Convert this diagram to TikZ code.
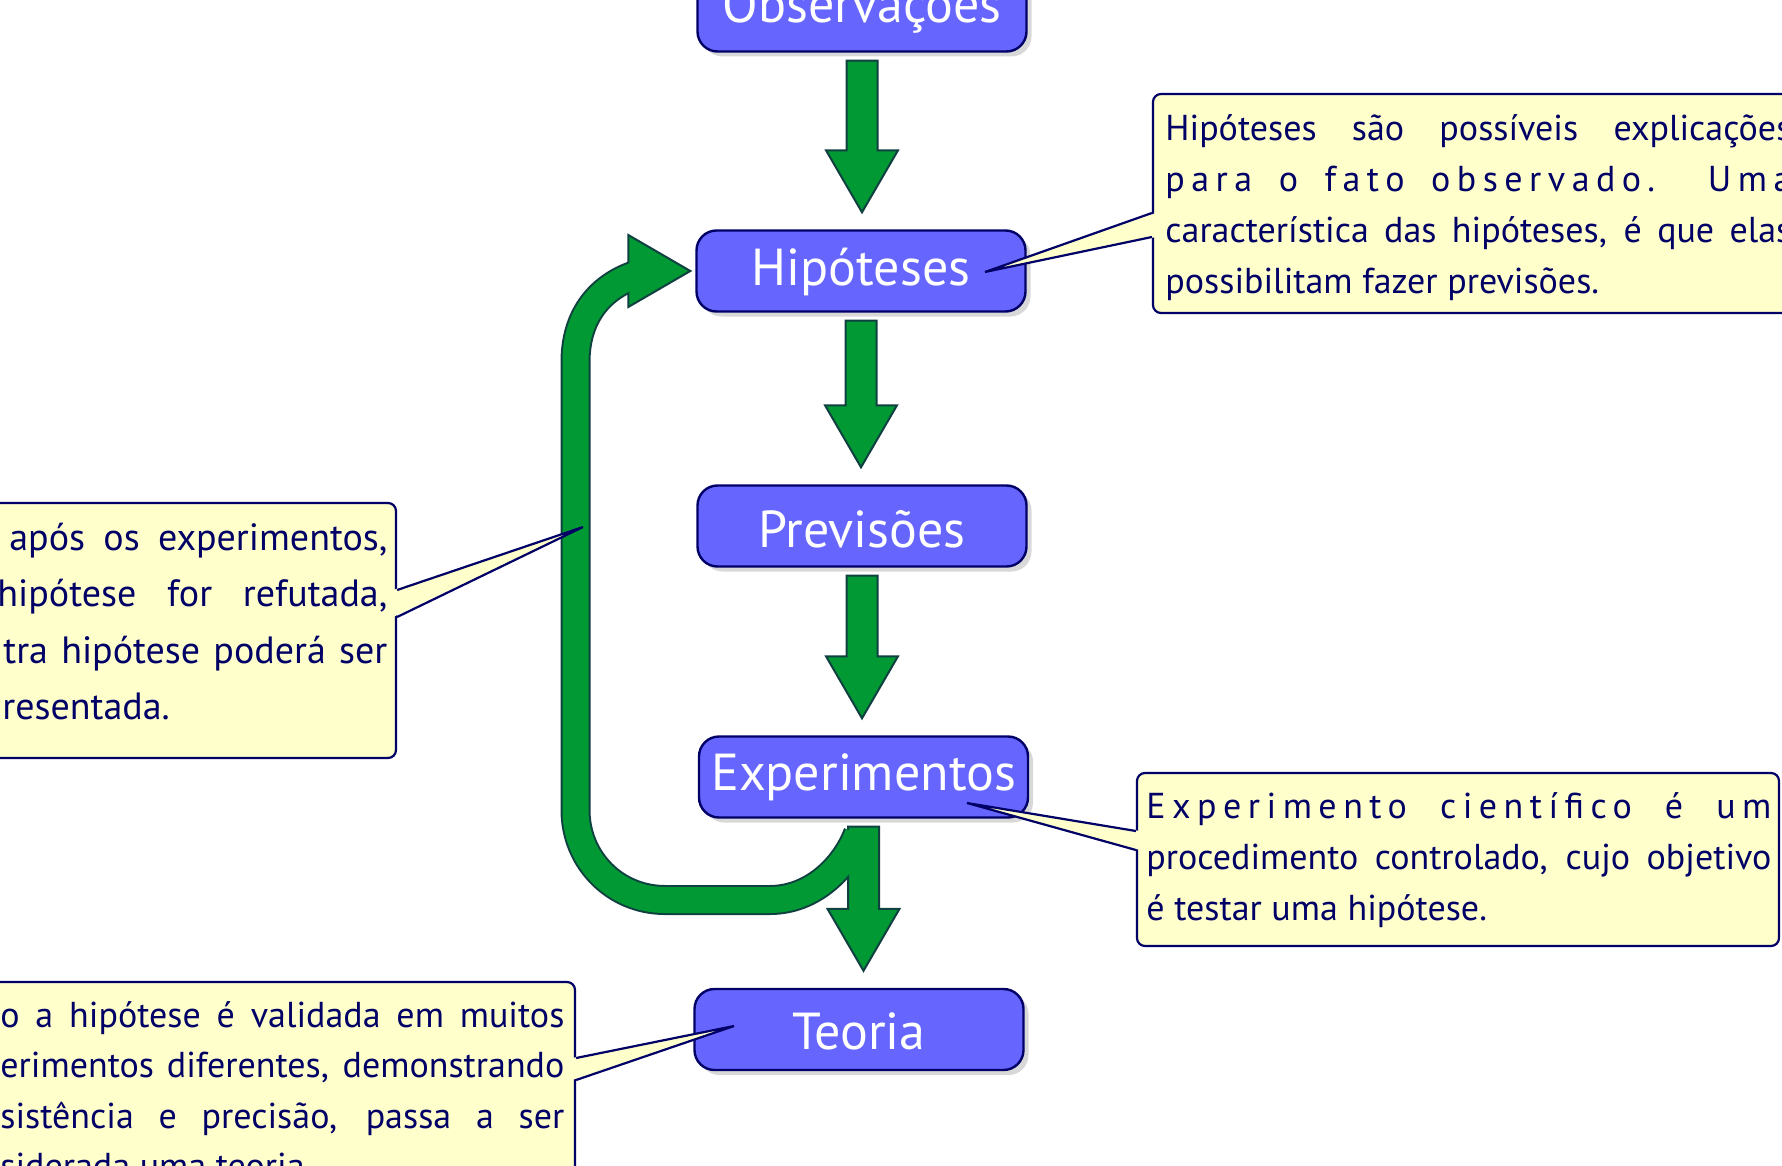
\documentclass[tikz,border=0pt]{standalone}
\usepackage{fontspec}
\newfontfamily\callfont{PT Sans}
\newfontfamily\nodefont{PT Sans}
\usetikzlibrary{calc,shadows}
\definecolor{nodefill}{RGB}{102,102,255}
\definecolor{navy}{RGB}{0,0,102}
\definecolor{callfill}{RGB}{255,255,204}
\definecolor{agreen}{RGB}{0,153,51}
\definecolor{aline}{RGB}{16,64,64}
\tikzset{
 stage/.style={rectangle, rounded corners=10pt, fill=nodefill, draw=navy, line width=1.2pt,
   minimum width=164.5pt, minimum height=40.5pt, text=white, inner sep=0pt,
   font=\nodefont\fontsize{26}{30}\selectfont, text height=18pt, text depth=6pt,
   drop shadow={shadow xshift=2.5pt, shadow yshift=-2.5pt, opacity=0.3}},
 callbox/.style={rectangle, rounded corners=4pt, fill=callfill, draw=navy, line width=1.1pt, inner sep=0pt},
 calltext/.style={inner sep=0pt, text=navy, anchor=base west, font=\callfont\fontsize{18}{25.5}\selectfont},
 fat/.style={fill=agreen, draw=aline, line width=1pt, line join=miter},
 pointerline/.style={draw=navy, line width=1.1pt, line join=miter},
}
\newcommand\fatarrow[2]{%
 \draw[fat] ($(#1.south)+(-15.5,8)$) -- ($(#1.south |- #2.north)+(-15.5,-79)$)
   -- ($(#1.south |- #2.north)+(-36,-79)$) -- ($(#1.south |- #2.north)+(0,-17)$)
   -- ($(#1.south |- #2.north)+(36,-79)$) -- ($(#1.south |- #2.north)+(15.5,-79)$)
   -- ($(#1.south)+(15.5,8)$) -- cycle;}
\begin{document}
\begin{tikzpicture}[x=0.5pt,y=-0.5pt]
\useasboundingbox (0,0) rectangle (1782,1166);
\fill[white] (0,0) rectangle (1782,1166);
\clip (0,0) rectangle (1782,1166);

% stage nodes
\node[stage] (obs) at (862,11) {Observações};
\node[stage, text height=20.2pt] (hip) at (861,271) {Hipóteses};
\node[stage, text height=27pt] (prev) at (862,526) {Previsões};
\node[stage, text height=19.1pt] (exp) at (863.5,777) {Experimentos};
\node[stage, text height=26pt] (teo) at (859,1029.5) {Teoria};

% straight arrows
\fatarrow{obs}{hip}
\fatarrow{hip}{prev}
\fatarrow{prev}{exp}

% loop arrow (experiments back to hypotheses)
\coordinate (ls) at ($(exp.south)+(-5.5,15)$);
\coordinate (le) at ($(hip.west)+(-60,4)$);
\def\loopband{(ls) .. controls (845,868) and (812,900) .. (770,900) -- (665,900)
  .. controls (615,900) and (575.5,860) .. (575.5,810) -- (575.5,362)
  .. controls (575.5,318) and (598,288) .. (le)}
\draw[aline, line width=15pt] \loopband;
\fatarrow{exp}{teo}
\draw[fat] ($(hip.west)+(-67,-36)$) -- ($(hip.west)+(-5,0)$) -- ($(hip.west)+(-67,36)$) -- cycle;
\draw[agreen, line width=13pt] \loopband;

% callout boxes
\node[callbox, minimum width=328.5pt, minimum height=109.5pt] (c1) at (1481.5,203.5) {};
\node[callbox, minimum width=208pt, minimum height=127.5pt] (c2) at (188,630.5) {};
\node[callbox, minimum width=321pt, minimum height=86.5pt] (c3) at (1458,859.5) {};
\node[callbox, minimum width=297.5pt, minimum height=109pt] (c4) at (277.5,1091) {};

% callout texts
\node[calltext] (c1t) at (1165,140.5) {\parbox[t]{313pt}{%
\makebox[313pt][s]{Hipóteses são possíveis explicações}\\
\makebox[313pt][s]{\addfontfeatures{LetterSpace=18}para o fato observado. Uma}\\
\makebox[313pt][s]{característica das hipóteses, é que elas}\\
possibilitam fazer previsões.}};

\node[calltext, font=\callfont\fontsize{19}{28.25}\selectfont] (c2t) at (0,550) {\parbox[t]{200pt}{%
\hspace*{4.5pt}\makebox[189pt][s]{após os experimentos,}\\
\hspace*{-1.5pt}\makebox[195pt][s]{hipótese for refutada,}\\
\hspace*{1.5pt}\makebox[192pt][s]{tra hipótese poderá ser}\\
\hspace*{1pt}resentada.}};

\node[calltext] (c3t) at (1146,818.5) {\parbox[t]{312.5pt}{%
\makebox[312.5pt][s]{\addfontfeatures{LetterSpace=18}Experimento científico é um}\\
\makebox[312.5pt][s]{procedimento controlado, cujo objetivo}\\
é testar uma hipótese.}};

\node[calltext, font=\callfont\fontsize{18}{25.3}\selectfont] (c4t) at (0,1027) {\parbox[t]{282pt}{%
\makebox[282pt][s]{o a hipótese é validada em muitos}\\
\makebox[282pt][s]{erimentos diferentes, demonstrando}\\
\makebox[282pt][s]{sistência e precisão, passa a ser}\\
siderada uma teoria.}};

% pointer tips
\coordinate (t1) at (985,272);
\coordinate (t2) at (583,527);
\coordinate (t3) at (967,803);
\coordinate (t4) at (734,1026);

% pointers
\fill[callfill] ($(c1.west)+(4,9.5)$) -- (t1) -- ($(c1.west)+(4,33.5)$) -- cycle;
\draw[pointerline] ($(c1.west)+(0,9.5)$) -- (t1) -- ($(c1.west)+(0,33.5)$);
\fill[callfill] ($(c2.east)+(-4,-40.5)$) -- (t2) -- ($(c2.east)+(-4,-13.5)$) -- cycle;
\draw[pointerline] ($(c2.east)+(0,-40.5)$) -- (t2) -- ($(c2.east)+(0,-13.5)$);
\fill[callfill] ($(c3.west)+(4,-28.5)$) -- (t3) -- ($(c3.west)+(4,-9.5)$) -- cycle;
\draw[pointerline] ($(c3.west)+(0,-28.5)$) -- (t3) -- ($(c3.west)+(0,-9.5)$);
\fill[callfill] ($(c4.east)+(-4,-33)$) -- (t4) -- ($(c4.east)+(-4,-11)$) -- cycle;
\draw[pointerline] ($(c4.east)+(0,-33)$) -- (t4) -- ($(c4.east)+(0,-11)$);
\end{tikzpicture}
\end{document}
